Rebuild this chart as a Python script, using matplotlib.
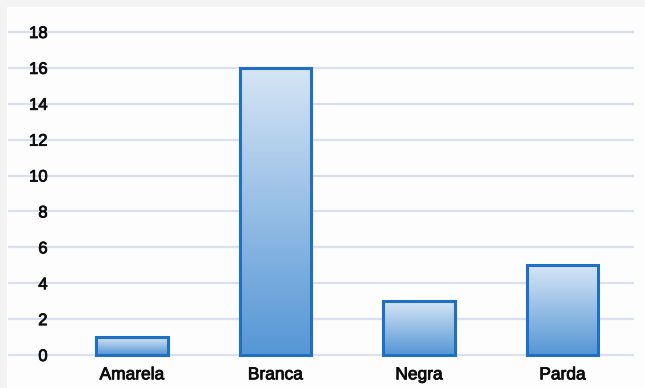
import numpy as np
import matplotlib
matplotlib.use("Agg")
import matplotlib.pyplot as plt
from matplotlib.colors import LinearSegmentedColormap
from matplotlib.patches import Rectangle
import matplotlib.patheffects as pe

categories = ["Amarela", "Branca", "Negra", "Parda"]
values = [1, 16, 3, 5]
yticks = [0, 2, 4, 6, 8, 10, 12, 14, 16, 18]

plt.rcParams['font.family'] = ['Liberation Sans', 'DejaVu Sans']

W, H = 645, 388
fig = plt.figure(figsize=(W/100, H/100), dpi=100, facecolor='#f3f3f3')
# card background
fig.patches.append(Rectangle((7/W, 0), (W-7)/W, (388-7)/H, transform=fig.transFigure,
                             facecolor='#fdfdfd', edgecolor='none', zorder=-1))

left, right = 8/W, 634/W
bottom, top = (H-360.4)/H, (H-26.6)/H
ax = fig.add_axes([left, bottom, right-left, top-bottom])
ax.set_zorder(2)
ax.set_facecolor('none')

x = np.arange(len(categories))

for s in ax.spines.values():
    s.set_visible(False)

ax.set_yticks(yticks)
ax.yaxis.grid(True, color='#d9e1f1', linewidth=1.6)
ax.set_axisbelow(True)
ax.tick_params(axis='y', length=0, pad=-28.5, labelsize=12, labelcolor='#0d0d0d')
ax.tick_params(axis='x', length=0, pad=5, labelsize=12.5, labelcolor='#0d0d0d')
ax.set_xticks(x)
ax.set_xticklabels(categories)
stroke = [pe.withStroke(linewidth=0.6, foreground='#0d0d0d')]
for lbl in ax.get_yticklabels() + ax.get_xticklabels():
    lbl.set_path_effects(stroke)

cmap = LinearSegmentedColormap.from_list('g', ['#5596d5', '#d6e5f5'])
grad = np.linspace(0, 1, 256).reshape(-1, 1)
bars = ax.bar(x, values, width=0.5, facecolor='none', edgecolor='#1f6fc2', linewidth=2.2, zorder=4)
for b in bars:
    bx, by = b.get_x(), b.get_y()
    bw, bh = b.get_width(), b.get_height()
    im = ax.imshow(grad, extent=[bx, bx+bw, by, by+bh], origin='lower', cmap=cmap,
                   aspect='auto', zorder=3)
    im.set_clip_path(b)

ax.set_xlim(-0.864, (634-132)/143.5)
ax.set_ylim(-0.3, 18.3)

fig.savefig('out.png', dpi=100, facecolor=fig.get_facecolor())
